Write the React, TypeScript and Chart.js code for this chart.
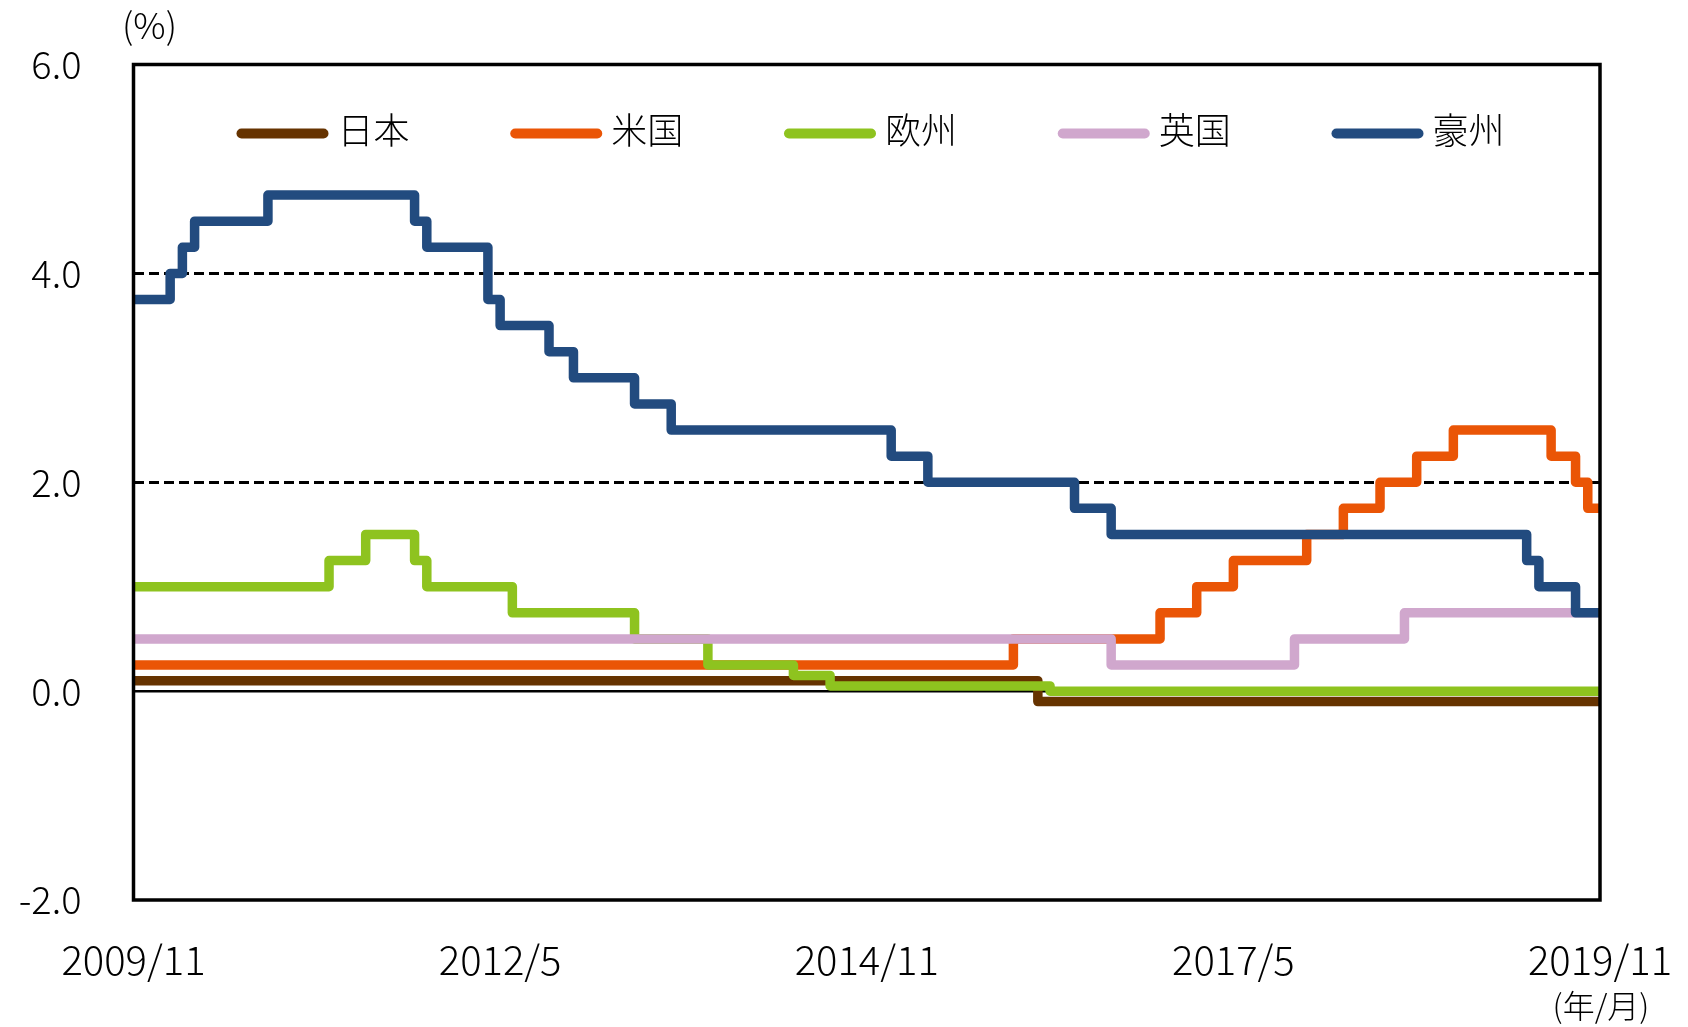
import React, { useEffect, useRef } from 'react';
import { Chart, registerables } from 'chart.js';

Chart.register(...registerables);

// Month-end policy rates, 2009/11 .. 2019/11 (121 months)
const months: string[] = [
  '2009/11', '2009/12',
  '2010/1', '2010/2', '2010/3', '2010/4', '2010/5', '2010/6', '2010/7', '2010/8', '2010/9', '2010/10', '2010/11', '2010/12',
  '2011/1', '2011/2', '2011/3', '2011/4', '2011/5', '2011/6', '2011/7', '2011/8', '2011/9', '2011/10', '2011/11', '2011/12',
  '2012/1', '2012/2', '2012/3', '2012/4', '2012/5', '2012/6', '2012/7', '2012/8', '2012/9', '2012/10', '2012/11', '2012/12',
  '2013/1', '2013/2', '2013/3', '2013/4', '2013/5', '2013/6', '2013/7', '2013/8', '2013/9', '2013/10', '2013/11', '2013/12',
  '2014/1', '2014/2', '2014/3', '2014/4', '2014/5', '2014/6', '2014/7', '2014/8', '2014/9', '2014/10', '2014/11', '2014/12',
  '2015/1', '2015/2', '2015/3', '2015/4', '2015/5', '2015/6', '2015/7', '2015/8', '2015/9', '2015/10', '2015/11', '2015/12',
  '2016/1', '2016/2', '2016/3', '2016/4', '2016/5', '2016/6', '2016/7', '2016/8', '2016/9', '2016/10', '2016/11', '2016/12',
  '2017/1', '2017/2', '2017/3', '2017/4', '2017/5', '2017/6', '2017/7', '2017/8', '2017/9', '2017/10', '2017/11', '2017/12',
  '2018/1', '2018/2', '2018/3', '2018/4', '2018/5', '2018/6', '2018/7', '2018/8', '2018/9', '2018/10', '2018/11', '2018/12',
  '2019/1', '2019/2', '2019/3', '2019/4', '2019/5', '2019/6', '2019/7', '2019/8', '2019/9', '2019/10', '2019/11',
];

const xTickLabels: string[] = ['2009/11', '2012/5', '2014/11', '2017/5', '2019/11'];
const yTickValues: number[] = [-2, 0, 2, 4, 6];
const dashedLevels: number[] = [2, 4];

const japan: number[] = [
  0.1, 0.1,
  0.1, 0.1, 0.1, 0.1, 0.1, 0.1, 0.1, 0.1, 0.1, 0.1, 0.1, 0.1,
  0.1, 0.1, 0.1, 0.1, 0.1, 0.1, 0.1, 0.1, 0.1, 0.1, 0.1, 0.1,
  0.1, 0.1, 0.1, 0.1, 0.1, 0.1, 0.1, 0.1, 0.1, 0.1, 0.1, 0.1,
  0.1, 0.1, 0.1, 0.1, 0.1, 0.1, 0.1, 0.1, 0.1, 0.1, 0.1, 0.1,
  0.1, 0.1, 0.1, 0.1, 0.1, 0.1, 0.1, 0.1, 0.1, 0.1, 0.1, 0.1,
  0.1, 0.1, 0.1, 0.1, 0.1, 0.1, 0.1, 0.1, 0.1, 0.1, 0.1, 0.1,
  0.1, -0.1, -0.1, -0.1, -0.1, -0.1, -0.1, -0.1, -0.1, -0.1, -0.1, -0.1,
  -0.1, -0.1, -0.1, -0.1, -0.1, -0.1, -0.1, -0.1, -0.1, -0.1, -0.1, -0.1,
  -0.1, -0.1, -0.1, -0.1, -0.1, -0.1, -0.1, -0.1, -0.1, -0.1, -0.1, -0.1,
  -0.1, -0.1, -0.1, -0.1, -0.1, -0.1, -0.1, -0.1, -0.1, -0.1, -0.1,
];

const usa: number[] = [
  0.25, 0.25,
  0.25, 0.25, 0.25, 0.25, 0.25, 0.25, 0.25, 0.25, 0.25, 0.25, 0.25, 0.25,
  0.25, 0.25, 0.25, 0.25, 0.25, 0.25, 0.25, 0.25, 0.25, 0.25, 0.25, 0.25,
  0.25, 0.25, 0.25, 0.25, 0.25, 0.25, 0.25, 0.25, 0.25, 0.25, 0.25, 0.25,
  0.25, 0.25, 0.25, 0.25, 0.25, 0.25, 0.25, 0.25, 0.25, 0.25, 0.25, 0.25,
  0.25, 0.25, 0.25, 0.25, 0.25, 0.25, 0.25, 0.25, 0.25, 0.25, 0.25, 0.25,
  0.25, 0.25, 0.25, 0.25, 0.25, 0.25, 0.25, 0.25, 0.25, 0.25, 0.25, 0.5,
  0.5, 0.5, 0.5, 0.5, 0.5, 0.5, 0.5, 0.5, 0.5, 0.5, 0.5, 0.75,
  0.75, 0.75, 1.0, 1.0, 1.0, 1.25, 1.25, 1.25, 1.25, 1.25, 1.25, 1.5,
  1.5, 1.5, 1.75, 1.75, 1.75, 2.0, 2.0, 2.0, 2.25, 2.25, 2.25, 2.5,
  2.5, 2.5, 2.5, 2.5, 2.5, 2.5, 2.5, 2.25, 2.25, 2.0, 1.75,
];

const europe: number[] = [
  1.0, 1.0,
  1.0, 1.0, 1.0, 1.0, 1.0, 1.0, 1.0, 1.0, 1.0, 1.0, 1.0, 1.0,
  1.0, 1.0, 1.0, 1.25, 1.25, 1.25, 1.5, 1.5, 1.5, 1.5, 1.25, 1.0,
  1.0, 1.0, 1.0, 1.0, 1.0, 1.0, 0.75, 0.75, 0.75, 0.75, 0.75, 0.75,
  0.75, 0.75, 0.75, 0.75, 0.5, 0.5, 0.5, 0.5, 0.5, 0.5, 0.25, 0.25,
  0.25, 0.25, 0.25, 0.25, 0.25, 0.15, 0.15, 0.15, 0.05, 0.05, 0.05, 0.05,
  0.05, 0.05, 0.05, 0.05, 0.05, 0.05, 0.05, 0.05, 0.05, 0.05, 0.05, 0.05,
  0.05, 0.05, 0, 0, 0, 0, 0, 0, 0, 0, 0, 0,
  0, 0, 0, 0, 0, 0, 0, 0, 0, 0, 0, 0,
  0, 0, 0, 0, 0, 0, 0, 0, 0, 0, 0, 0,
  0, 0, 0, 0, 0, 0, 0, 0, 0, 0, 0,
];

const uk: number[] = [
  0.5, 0.5,
  0.5, 0.5, 0.5, 0.5, 0.5, 0.5, 0.5, 0.5, 0.5, 0.5, 0.5, 0.5,
  0.5, 0.5, 0.5, 0.5, 0.5, 0.5, 0.5, 0.5, 0.5, 0.5, 0.5, 0.5,
  0.5, 0.5, 0.5, 0.5, 0.5, 0.5, 0.5, 0.5, 0.5, 0.5, 0.5, 0.5,
  0.5, 0.5, 0.5, 0.5, 0.5, 0.5, 0.5, 0.5, 0.5, 0.5, 0.5, 0.5,
  0.5, 0.5, 0.5, 0.5, 0.5, 0.5, 0.5, 0.5, 0.5, 0.5, 0.5, 0.5,
  0.5, 0.5, 0.5, 0.5, 0.5, 0.5, 0.5, 0.5, 0.5, 0.5, 0.5, 0.5,
  0.5, 0.5, 0.5, 0.5, 0.5, 0.5, 0.5, 0.25, 0.25, 0.25, 0.25, 0.25,
  0.25, 0.25, 0.25, 0.25, 0.25, 0.25, 0.25, 0.25, 0.25, 0.25, 0.5, 0.5,
  0.5, 0.5, 0.5, 0.5, 0.5, 0.5, 0.5, 0.75, 0.75, 0.75, 0.75, 0.75,
  0.75, 0.75, 0.75, 0.75, 0.75, 0.75, 0.75, 0.75, 0.75, 0.75, 0.75,
];

const australia: number[] = [
  3.75, 3.75,
  3.75, 3.75, 4.0, 4.25, 4.5, 4.5, 4.5, 4.5, 4.5, 4.5, 4.75, 4.75,
  4.75, 4.75, 4.75, 4.75, 4.75, 4.75, 4.75, 4.75, 4.75, 4.75, 4.5, 4.25,
  4.25, 4.25, 4.25, 4.25, 3.75, 3.5, 3.5, 3.5, 3.5, 3.25, 3.25, 3.0,
  3.0, 3.0, 3.0, 3.0, 2.75, 2.75, 2.75, 2.5, 2.5, 2.5, 2.5, 2.5,
  2.5, 2.5, 2.5, 2.5, 2.5, 2.5, 2.5, 2.5, 2.5, 2.5, 2.5, 2.5,
  2.5, 2.25, 2.25, 2.25, 2.0, 2.0, 2.0, 2.0, 2.0, 2.0, 2.0, 2.0,
  2.0, 2.0, 2.0, 2.0, 1.75, 1.75, 1.75, 1.5, 1.5, 1.5, 1.5, 1.5,
  1.5, 1.5, 1.5, 1.5, 1.5, 1.5, 1.5, 1.5, 1.5, 1.5, 1.5, 1.5,
  1.5, 1.5, 1.5, 1.5, 1.5, 1.5, 1.5, 1.5, 1.5, 1.5, 1.5, 1.5,
  1.5, 1.5, 1.5, 1.5, 1.5, 1.25, 1.0, 1.0, 1.0, 0.75, 0.75,
];

const seriesNames: string[] = ['日本', '米国', '欧州', '英国', '豪州'];
const seriesData: number[][] = [japan, usa, europe, uk, australia];
const seriesColors: string[] = ['#663300', '#EA5506', '#8EC31F', '#D0A7CD', '#224B7F'];
const seriesOrder: number[] = [5, 4, 3, 2, 1];

const FONT = '"Noto Sans CJK JP", "Noto Sans", sans-serif';

const framePlugin = {
  id: 'frameAndTexts',
  afterDatasetsDraw(chart: any) {
    const { ctx, chartArea } = chart;
    const { left, right, top, bottom } = chartArea;
    ctx.save();
    // frame
    ctx.strokeStyle = '#000';
    ctx.lineWidth = 3.5;
    ctx.setLineDash([]);
    ctx.strokeRect(left, top, right - left, bottom - top);

    // legend inside plot
    const lineLen = 82;
    const step = 273.75;
    ctx.font = `300 36px ${FONT}`;
    ctx.textAlign = 'left';
    ctx.textBaseline = 'middle';
    chart.data.datasets.forEach((ds: any, i: number) => {
      const x0 = left + 108 + i * step;
      const y = top + 69;
      ctx.strokeStyle = ds.borderColor;
      ctx.lineWidth = 10;
      ctx.lineCap = 'round';
      ctx.beginPath();
      ctx.moveTo(x0, y);
      ctx.lineTo(x0 + lineLen, y);
      ctx.stroke();
      ctx.fillStyle = '#000';
      ctx.fillText(ds.label, x0 + lineLen + 14, top + 66);
    });

    // unit labels
    ctx.fillStyle = '#000';
    ctx.textAlign = 'center';
    ctx.textBaseline = 'middle';
    ctx.font = `300 36px ${FONT}`;
    ctx.fillText('(%)', left + 16, 25);
    ctx.font = `300 32px ${FONT}`;
    ctx.fillText('(年/月)', right + 1, 1006);
    ctx.restore();
  },
};

export default function App() {
  const ref = useRef<HTMLCanvasElement | null>(null);

  useEffect(() => {
    if (!ref.current) return;
    Chart.defaults.font.family = FONT;
    const chart = new Chart(ref.current, {
      type: 'line',
      data: {
        labels: months,
        datasets: seriesNames.map((name, i) => ({
          label: name,
          data: seriesData[i],
          borderColor: seriesColors[i],
          backgroundColor: seriesColors[i],
          borderWidth: 9.5,
          borderJoinStyle: 'round',
          borderCapStyle: 'butt',
          pointRadius: 0,
          stepped: 'after',
          fill: false,
          order: seriesOrder[i],
        })),
      },
      options: {
        animation: false,
        responsive: false,
        maintainAspectRatio: false,
        devicePixelRatio: 1,
        layout: { padding: { top: 64.5, right: 88, left: 0, bottom: 0 } },
        plugins: {
          legend: { display: false },
          tooltip: { enabled: false },
          title: { display: false },
        },
        scales: {
          x: {
            type: 'category',
            offset: false,
            grid: { display: false },
            border: { display: false },
            ticks: {
              autoSkip: false,
              maxRotation: 0,
              minRotation: 0,
              padding: 28,
              color: '#000',
              font: { size: 40, family: FONT, weight: '300' },
              callback: (_v: any, idx: number) =>
                xTickLabels.includes(months[idx]) ? months[idx] : '',
            },
            afterFit: (s: any) => {
              s.height = 127;
              s.paddingLeft = 0;
              s.paddingRight = 0;
            },
          },
          y: {
            min: -2,
            max: 6,
            afterBuildTicks: (s: any) => {
              s.ticks = yTickValues.map((v) => ({ value: v }));
            },
            grid: {
              drawTicks: false,
              color: (c: any) => {
                const v = c.tick ? c.tick.value : null;
                if (v === 0 || dashedLevels.includes(v)) return '#000';
                return 'rgba(0,0,0,0)';
              },
              lineWidth: (c: any) => {
                const v = c.tick ? c.tick.value : null;
                return v === 0 ? 2.5 : 3;
              },
            },
            border: {
              display: false,
              dash: (c: any) => {
                const v = c.tick ? c.tick.value : null;
                return dashedLevels.includes(v) ? [10, 5] : [];
              },
            },
            ticks: {
              padding: 52,
              color: '#000',
              font: { size: 38, family: FONT, weight: '300' },
              callback: (v: any) => Number(v).toFixed(1),
            },
            afterFit: (s: any) => {
              s.width = 133.5;
              s.paddingTop = 0;
              s.paddingBottom = 0;
            },
          },
        },
      },
      plugins: [framePlugin],
    } as any);
    return () => chart.destroy();
  }, []);

  return (
    <div
      style={{
        position: 'fixed',
        left: 0,
        top: 0,
        width: 1688,
        height: 1027,
        background: '#fff',
      }}
    >
      <canvas ref={ref} width={1688} height={1027} style={{ display: 'block' }} />
    </div>
  );
}
